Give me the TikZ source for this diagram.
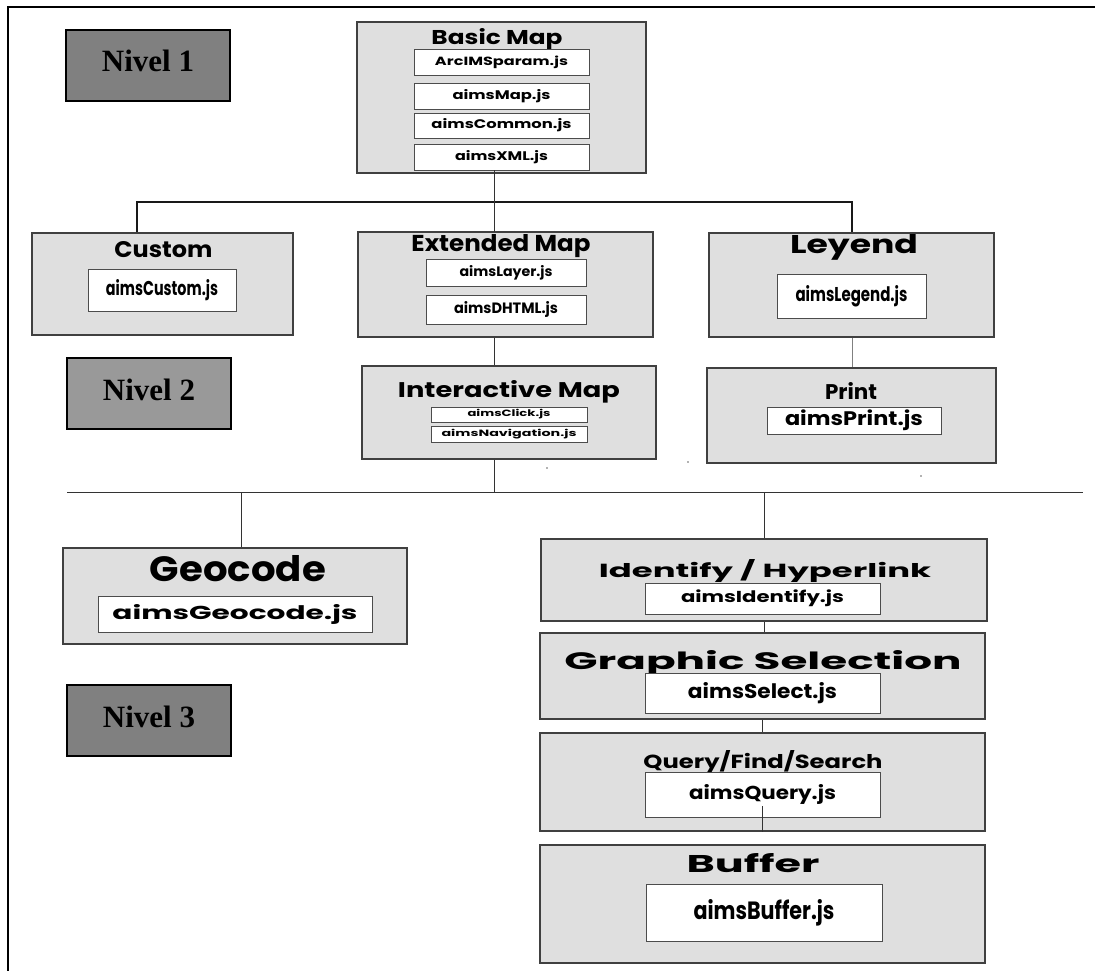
\documentclass[tikz,border=0pt]{standalone}
\usepackage{graphicx}
\usepackage{fontspec}
\setmainfont{Poppins}
\newfontfamily\nivelfont{Liberation Serif}

% text squeezed to the size it has in the chart
\newcommand{\ftxt}[3]{\resizebox{#1pt}{#2pt}{\bfseries #3}}

\definecolor{boxgray}{HTML}{DFDFDF}
\definecolor{nivdark}{HTML}{808080}
\definecolor{nivlight}{HTML}{999999}

\begin{document}
\begin{tikzpicture}[x=1pt,y=-1pt,
    grp/.style={draw=black!75,line width=1.1pt,fill=boxgray},
    file/.style={draw=black!70,line width=0.9pt,fill=white,inner sep=0pt},
    ttl/.style={anchor=base,inner sep=0pt},
    nivel/.style={draw=black,line width=2pt,minimum width=164pt,minimum height=71pt,
      font=\nivelfont\fontsize{31pt}{31pt}\selectfont\bfseries,
      text height=21pt,text depth=8pt},
    link/.style={draw=black!80,line width=0.9pt},
    bar/.style={draw=black!90,line width=2.4pt}]
  \useasboundingbox (0,0) rectangle (1095,971);

  % Frame
  \draw[line width=1.8pt] (8,971) -- (8,7) -- (1095,7);

  % Level boxes
  \node[nivel,fill=nivdark] (nivel1) at (148,65.5) {Nivel 1};
  \node[nivel,fill=nivlight] (nivel2) at (149,393.5) {Nivel 2};
  \node[nivel,fill=nivdark] (nivel3) at (149,720.5) {Nivel 3};

  % Level 1
  \node[grp,minimum width=289pt,minimum height=151pt] (basic) at (501.5,97.5) {};
  \node[ttl] (basic-t) at (497,45) {\ftxt{131}{16}{Basic Map}};
  \node[file,minimum width=175pt,minimum height=26pt] (arcims) at (501.5,62) {\ftxt{133}{9.5}{ArcIMSparam.js}};
  \node[file,minimum width=175pt,minimum height=26pt] (aimsmap) at (501.5,96) {\ftxt{98}{10}{aimsMap.js}};
  \node[file,minimum width=175pt,minimum height=25pt] (common) at (501.5,125.5) {\ftxt{140}{10}{aimsCommon.js}};
  \node[file,minimum width=175pt,minimum height=26pt] (xml) at (501.5,157) {\ftxt{93}{10}{aimsXML.js}};

  % Level 2
  \node[grp,minimum width=261pt,minimum height=102pt] (custom) at (162.5,284) {};
  \node[ttl] (custom-t) at (163.5,257) {\ftxt{98}{16}{Custom}};
  \node[file,minimum width=148pt,minimum height=42pt] (fcustom) at (162,290) {\ftxt{112}{16}{aimsCustom.js}};

  \node[grp,minimum width=295pt,minimum height=105pt] (ext) at (505.5,284.5) {};
  \node[ttl] (ext-t) at (501,251) {\ftxt{179}{17}{Extended Map}};
  \node[file,minimum width=160pt,minimum height=27pt] (layer) at (506,272.5) {\ftxt{93}{11}{aimsLayer.js}};
  \node[file,minimum width=160pt,minimum height=29pt] (dhtml) at (506,309.5) {\ftxt{104}{12}{aimsDHTML.js}};

  \node[grp,minimum width=285pt,minimum height=104pt] (leyend) at (851.5,285) {};
  \node[ttl] (leyend-t) at (854,253) {\ftxt{128}{19}{Leyend}};
  \node[file,minimum width=149pt,minimum height=44pt] (legend) at (851.5,296) {\ftxt{112}{16}{aimsLegend.js}};

  \node[grp,minimum width=294pt,minimum height=93pt] (inter) at (509,412.5) {};
  \node[ttl] (inter-t) at (509,397) {\ftxt{222}{17}{Interactive Map}};
  \node[file,minimum width=156pt,minimum height=15pt] (click) at (509,414.5) {\ftxt{83}{7.3}{aimsClick.js}};
  \node[file,minimum width=156pt,minimum height=16pt] (navig) at (509,434) {\ftxt{135}{7.3}{aimsNavigation.js}};

  \node[grp,minimum width=289pt,minimum height=95pt] (print) at (851.5,415.5) {};
  \node[ttl] (print-t) at (851,399) {\ftxt{52}{17}{Print}};
  \node[file,minimum width=174pt,minimum height=27pt] (fprint) at (854,420.5) {\ftxt{138}{15.7}{aimsPrint.js}};

  % Level 3
  \node[grp,minimum width=344pt,minimum height=96pt] (geo) at (235,596) {};
  \node[ttl] (geo-t) at (238,581) {\ftxt{176}{26}{Geocode}};
  \node[file,minimum width=274pt,minimum height=36pt] (fgeo) at (235,614) {\ftxt{245}{15}{aimsGeocode.js}};

  \node[grp,minimum width=446pt,minimum height=82pt] (ident) at (764,580) {};
  \node[ttl] (ident-t) at (765,577) {\ftxt{332}{18}{Identify / Hyperlink}};
  \node[file,minimum width=235pt,minimum height=31pt] (fident) at (762.5,598.5) {\ftxt{163}{12.7}{aimsIdentify.js}};

  \node[grp,minimum width=445pt,minimum height=86pt] (graph) at (762.5,676) {};
  \node[ttl] (graph-t) at (763,669) {\ftxt{397}{19}{Graphic Selection}};
  \node[file,minimum width=235pt,minimum height=40pt] (select) at (762.5,693) {\ftxt{149}{16}{aimsSelect.js}};

  \node[grp,minimum width=445pt,minimum height=98pt] (query) at (762.5,782) {};
  \node[ttl] (query-t) at (763,768) {\ftxt{239}{18}{Query/Find/Search}};
  \node[file,minimum width=235pt,minimum height=45pt] (fquery) at (762.5,794.5) {\ftxt{147}{15}{aimsQuery.js}};

  \node[grp,minimum width=445pt,minimum height=118pt] (buffer) at (762.5,904) {};
  \node[ttl] (buffer-t) at (753,872) {\ftxt{133}{19}{Buffer}};
  \node[file,minimum width=236pt,minimum height=57pt] (fbuffer) at (764,912.5) {\ftxt{141}{20}{aimsBuffer.js}};

  % Connectors
  \coordinate (bus1) at (137,202);
  \coordinate (bus2) at (852,202);
  \draw[bar] (bus1 |- custom.north) -- (bus1) -- (bus2) -- (bus2 |- leyend.north);
  \draw[link] (xml.south -| 494,0) -- (494,232);
  \draw[link] (ext.south -| 494,0) -- (inter.north -| 494,0);
  \draw[draw=black!50,line width=0.9pt] (leyend.south -| bus2) -- (print.north -| bus2);

  \coordinate (bus3) at (67,492);
  \coordinate (bus4) at (1083,492);
  \coordinate (g) at (241,492);
  \draw[link] (bus3) -- (bus4);
  \draw[link] (inter.south -| 494,0) -- (bus3 -| 494,0);
  \draw[link] (g) -- (g |- geo.north);
  \draw[link] (ident.north) -- (ident.north |- bus3);
  \draw[link] (ident.south) -- (ident.south |- graph.north);
  \draw[link] (graph.south -| 762,0) -- (query.north -| 762,0);
  \coordinate (qend) at (762,806);
  \draw[link] (query.south -| qend) -- (qend);

  % specks
  \fill[black!60] (547,468) circle (0.8);
  \fill[black!60] (688,462) circle (0.8);
  \fill[black!60] (921,476) circle (0.8);
\end{tikzpicture}
\end{document}
